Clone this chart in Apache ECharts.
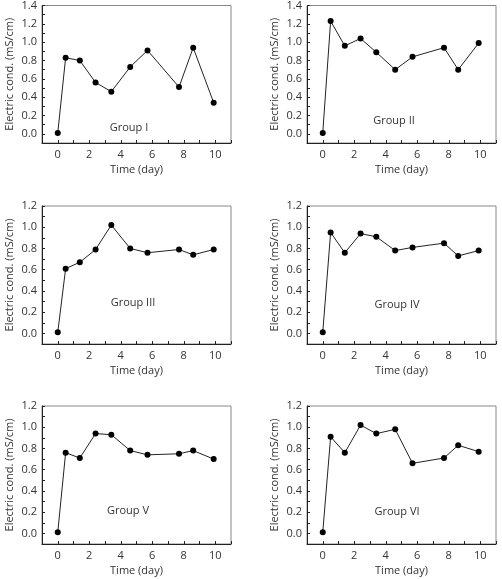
<!DOCTYPE html>
<html>
<head>
<meta charset="utf-8">
<script src="https://cdn.jsdelivr.net/npm/echarts@6/dist/echarts.min.js"></script>
<style>
  html, body { margin: 0; padding: 0; background: #fff; }
  #main { width: 502px; height: 579px; }
</style>
</head>
<body>
<div id="main"></div>
<script>
// sampling times (day), shared by all groups
const days = [0, 0.5, 1.4, 2.4, 3.4, 4.6, 5.7, 7.7, 8.6, 9.9];

const groupI = [0.01, 0.83, 0.80, 0.56, 0.46, 0.73, 0.91, 0.51, 0.94, 0.34];
const groupII = [0.01, 1.23, 0.96, 1.04, 0.89, 0.70, 0.84, 0.94, 0.70, 0.99];
const groupIII = [0.01, 0.61, 0.67, 0.79, 1.02, 0.80, 0.76, 0.79, 0.74, 0.79];
const groupIV = [0.01, 0.95, 0.76, 0.94, 0.91, 0.78, 0.81, 0.85, 0.73, 0.78];
const groupV = [0.01, 0.76, 0.71, 0.94, 0.93, 0.78, 0.74, 0.75, 0.78, 0.70];
const groupVI = [0.01, 0.91, 0.76, 1.02, 0.94, 0.98, 0.66, 0.71, 0.83, 0.77];

const groupNames = ["Group I", "Group II", "Group III", "Group IV", "Group V", "Group VI"];
const groupValues = [groupI, groupII, groupIII, groupIV, groupV, groupVI];
const yMaxes = [1.4, 1.4, 1.2, 1.2, 1.2, 1.2];

const xTicks = [0, 2, 4, 6, 8, 10];

// panel boxes: [left, top, width, height], label pos [x, y]
const boxes = [
  [42, 5, 189, 138],
  [307, 5, 189, 138],
  [42, 206, 189, 138],
  [307, 206, 189, 138],
  [42, 406, 189, 138],
  [307, 406, 189, 138],
];
const labelPos = [
  [129, 128], [394, 121], [133, 303], [397, 305], [128, 511], [397, 512],
];

const font = "'Open Sans', 'Noto Sans', sans-serif";
const txt = "#333333";

let grid = [], xAxis = [], yAxis = [], series = [], graphic = [];

boxes.forEach((b, i) => {
  grid.push({
    left: b[0], top: b[1], width: b[2], height: b[3],
    show: true, borderColor: "#888888", borderWidth: 1,
  });
  xAxis.push({
    gridIndex: i,
    type: "value",
    min: -1, max: 11, interval: 1,
    name: "Time (day)",
    nameLocation: "middle",
    nameGap: 21,
    nameTextStyle: { color: txt, fontSize: 11, fontFamily: font },
    axisLine: { onZero: false, lineStyle: { color: "#222222", width: 1 } },
    axisTick: { inside: true, length: 3, lineStyle: { color: "#222222" } },
    splitLine: { show: false },
    axisLabel: {
      color: txt, fontSize: 11, fontFamily: font, margin: 6,
      formatter: (v) => (xTicks.indexOf(Math.round(v)) >= 0 ? String(Math.round(v)) : ""),
    },
  });
  yAxis.push({
    gridIndex: i,
    type: "value",
    min: -0.1, max: yMaxes[i], interval: 0.1,
    name: "Electric cond. (mS/cm)",
    nameLocation: "middle",
    nameGap: 27,
    nameTextStyle: { color: txt, fontSize: 11, fontFamily: font },
    axisLine: { show: true, onZero: false, lineStyle: { color: "#222222", width: 1 } },
    axisTick: { inside: true, length: 3, lineStyle: { color: "#222222" } },
    splitLine: { show: false },
    axisLabel: {
      color: txt, fontSize: 11, fontFamily: font, margin: 5,
      formatter: (v) => {
        let k = Math.round(v * 10);
        return k >= 0 && k % 2 === 0 ? (k / 10).toFixed(1) : "";
      },
    },
  });
  series.push({
    type: "line",
    xAxisIndex: i,
    yAxisIndex: i,
    data: days.map((d, j) => [d, groupValues[i][j]]),
    symbol: "circle",
    symbolSize: 6,
    itemStyle: { color: "#000000" },
    lineStyle: { color: "#222222", width: 1 },
    animation: false,
  });
  graphic.push({
    type: "text",
    x: labelPos[i][0], y: labelPos[i][1],
    style: {
      text: groupNames[i], fill: txt, font: "11px " + font,
      align: "center", verticalAlign: "middle",
    },
  });
});

let chart = echarts.init(document.getElementById("main"));
chart.setOption({
  animation: false,
  grid: grid,
  xAxis: xAxis,
  yAxis: yAxis,
  series: series,
  graphic: graphic,
});
</script>
</body>
</html>
